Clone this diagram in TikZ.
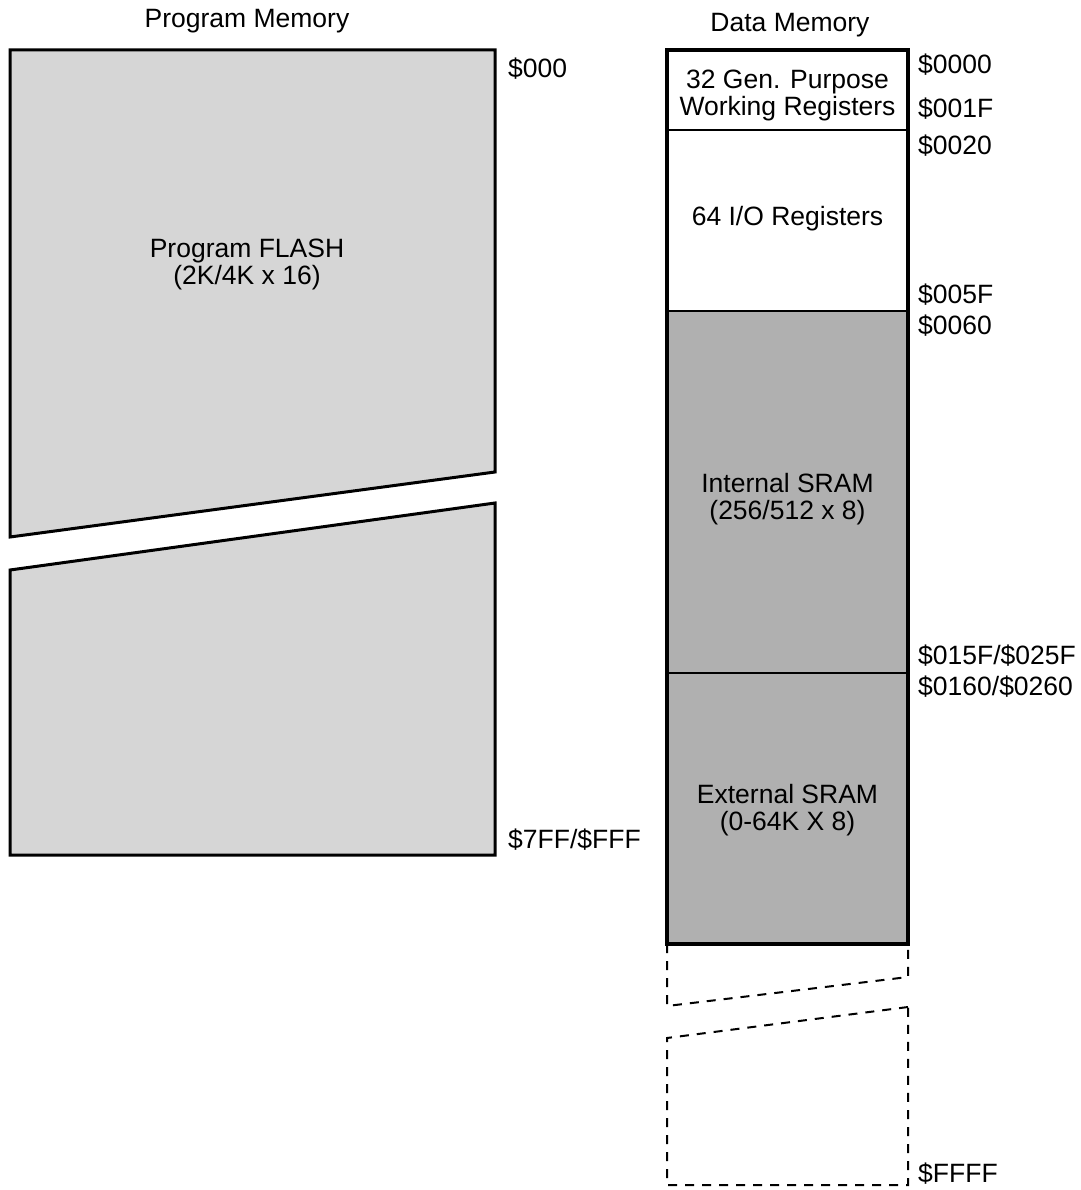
\documentclass[tikz,border=0pt]{standalone}
\usepackage{fontspec}
\setmainfont{Liberation Sans}
\usepackage{tikz}
\usetikzlibrary{positioning,calc}
\definecolor{flashgray}{RGB}{214,214,214}
\definecolor{sramgray}{RGB}{176,176,176}
\tikzset{
  lbl/.style={font=\fontsize{26.5}{27}\selectfont, align=center, inner sep=0pt},
  addr/.style={font=\fontsize{26.5}{27}\selectfont, anchor=west, inner sep=0pt},
  region/.style={draw=black, line width=2pt, anchor=north west, minimum width=241pt, inner sep=0pt, outer sep=0pt},
  brokenline/.style={draw=black, line width=2pt, dash pattern=on 9pt off 8pt}
}
\begin{document}
\begin{tikzpicture}[x=1pt, y=-1pt]
  \useasboundingbox (0,0) rectangle (1080,1190);

  % program memory
  \node[lbl] (ptitle) at (247,21) {Program Memory};
  \coordinate (fa) at (10,50);
  \coordinate (fb) at (495,50);
  \coordinate (fc) at (495,472);
  \coordinate (fd) at (10,537);
  \coordinate (fe) at (10,570);
  \coordinate (ff) at (495,503);
  \coordinate (fg) at (495,855);
  \coordinate (fh) at (10,855);
  \draw[line width=3pt, fill=flashgray, line join=miter] (fa) -- (fb) -- (fc) -- (fd) -- cycle;
  \draw[line width=3pt, fill=flashgray, line join=miter] (fe) -- (ff) -- (fg) -- (fh) -- cycle;
  \node[lbl] (flash) at (247,264) {Program FLASH\\(2K/4K x 16)};
  \node[addr] (a000) at (508,69) {\$000};
  \node[addr] (a7ff) at (508,840) {\$7FF/\$FFF};

  % data memory
  \node[lbl] (dtitle) at (790,25) {Data Memory};
  \node[region, fill=white, minimum height=80pt] (gpr) at (667,50) {};
  \node[region, fill=white, minimum height=181pt, below=0pt of gpr.south west, anchor=north west] (io) {};
  \node[region, fill=sramgray, minimum height=362pt, below=0pt of io.south west, anchor=north west] (isram) {};
  \node[region, fill=sramgray, minimum height=271pt, below=0pt of isram.south west, anchor=north west] (esram) {};
  \draw[line width=4pt] (gpr.north west) rectangle (esram.south east);

  \node[lbl] at ($(gpr.center)+(0,5)$) {32 Gen. Purpose\\Working Registers};
  \node[lbl] at ($(io.center)+(0,-2)$) {64 I/O Registers};
  \node[lbl] at ($(isram.center)+(0,7)$) {Internal SRAM\\(256/512 x 8)};
  \node[lbl] at ($(esram.center)+(0,2)$) {External SRAM\\(0-64K X 8)};

  % missing part of the address space
  \coordinate (xa) at (667,1006);
  \coordinate (xb) at (908,977);
  \coordinate (xc) at (908,1007);
  \coordinate (xd) at (667,1038);
  \coordinate (xe) at (667,1185);
  \coordinate (xf) at (908,1185);
  \draw[brokenline] (esram.south west) -- (xa) -- (xb) -- (esram.south east);
  \draw[brokenline] (xc) -- (xd) -- (xe) -- (xf) -- cycle;

  \node[addr] (d0000) at (918,65) {\$0000};
  \node[addr] (d001f) at (918,109) {\$001F};
  \node[addr] (d0020) at (918,146) {\$0020};
  \node[addr] (d005f) at (918,295) {\$005F};
  \node[addr] (d0060) at (918,326) {\$0060};
  \node[addr] (d015f) at (918,656) {\$015F/\$025F};
  \node[addr] (d0160) at (918,687) {\$0160/\$0260};
  \node[addr] (dffff) at (918,1174) {\$FFFF};
\end{tikzpicture}
\end{document}
